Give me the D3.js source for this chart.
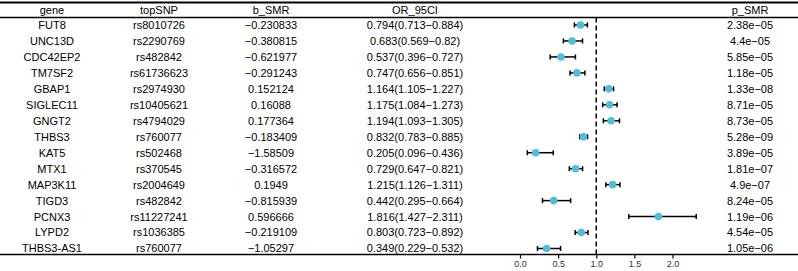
<!DOCTYPE html>
<html>
<head>
<meta charset="utf-8">
<script src="https://cdn.jsdelivr.net/npm/d3@7"></script>
<style>
  body { margin: 0; background: #fff; }
  text { font-family: "Liberation Sans", Arial, sans-serif; }
</style>
</head>
<body>
<div id="container"></div>
<script>
// forest plot of SMR results
const genes = ["FUT8", "UNC13D", "CDC42EP2", "TM7SF2", "GBAP1", "SIGLEC11", "GNGT2", "THBS3",
  "KAT5", "MTX1", "MAP3K11", "TIGD3", "PCNX3", "LYPD2", "THBS3-AS1"]
const snps = ["rs8010726", "rs2290769", "rs482842", "rs61736623", "rs2974930", "rs10405621", "rs4794029",
  "rs760077", "rs502468", "rs370545", "rs2004649", "rs482842", "rs11227241", "rs1036385", "rs760077"]
const bSMR = [-0.230833, -0.380815, -0.621977, -0.291243, 0.152124, 0.16088, 0.177364, -0.183409,
  -1.58509, -0.316572, 0.1949, -0.815939, 0.596666, -0.219109, -1.05297]
const orVal = [0.794, 0.683, 0.537, 0.747, 1.164, 1.175, 1.194, 0.832, 0.205, 0.729, 1.215, 0.442, 1.816, 0.803, 0.349]
const orLow = [0.713, 0.569, 0.396, 0.656, 1.105, 1.084, 1.093, 0.783, 0.096, 0.647, 1.126, 0.295, 1.427, 0.723, 0.229]
const orHigh = [0.884, 0.82, 0.727, 0.851, 1.227, 1.273, 1.305, 0.885, 0.436, 0.821, 1.311, 0.664, 2.311, 0.892, 0.532]
const pSMR = ["2.38e−05", "4.4e−05", "5.85e−05", "1.18e−05", "1.33e−08", "8.71e−05", "8.73e−05", "5.28e−09",
  "3.89e−05", "1.81e−07", "4.9e−07", "8.24e−05", "1.19e−06", "4.54e−05", "1.05e−06"]
const xTicks = [0, 0.5, 1, 1.5, 2]

const width = 798
const height = 271
const minus = s => String(s).replace("-", "−")

const data = genes.map((g, i) => ({
  gene: g, snp: snps[i], b: minus(bSMR[i]),
  ci: `${orVal[i]}(${orLow[i]}−${orHigh[i]})`,
  or: orVal[i], lo: orLow[i], hi: orHigh[i], p: pSMR[i]
}))

const svg = d3.select("#container")
  .append("svg")
  .attr("width", width)
  .attr("height", height)

const yScale = d3.scalePoint()
  .domain(genes)
  .range([25, 248.5])

const xScale = d3.scaleLinear()
  .domain([0, 2])
  .range([520, 672.5])

const cols = [
  { key: "gene", title: "gene", x: 52 },
  { key: "snp", title: "topSNP", x: 159 },
  { key: "b", title: "b_SMR", x: 271 },
  { key: "ci", title: "OR_95CI", x: 415 },
  { key: "p", title: "p_SMR", x: 750 }
]

// header
svg.append("g")
  .selectAll("text")
  .data(cols)
  .join("text")
  .attr("x", d => d.x)
  .attr("y", 10)
  .attr("dy", "0.36em")
  .attr("text-anchor", "middle")
  .style("font-size", "11px")
  .text(d => d.title)

// body text
cols.forEach(c => {
  svg.append("g")
    .selectAll("text")
    .data(data)
    .join("text")
    .attr("x", c.x)
    .attr("y", d => yScale(d.gene))
    .attr("dy", "0.36em")
    .attr("text-anchor", "middle")
    .style("font-size", "11px")
    .text(d => d[c.key])
})

// table lines
svg.append("line").attr("x1", 0).attr("x2", width).attr("y1", 2.5).attr("y2", 2.5)
  .attr("stroke", "#000").attr("stroke-width", 2)
svg.append("line").attr("x1", 0).attr("x2", width).attr("y1", 17.5).attr("y2", 17.5)
  .attr("stroke", "#000").attr("stroke-width", 1.5)

// reference line at OR = 1
svg.append("line")
  .attr("x1", xScale(1)).attr("x2", xScale(1))
  .attr("y1", 17.5).attr("y2", 254)
  .attr("stroke", "#000")
  .attr("stroke-width", 1.5)
  .attr("stroke-dasharray", "5,3")

// x axis
const axis = svg.append("g")
  .attr("transform", "translate(0, 254.5)")
  .call(d3.axisBottom(xScale).tickValues(xTicks).tickFormat(d3.format(".1f")).tickSize(4).tickPadding(2))
axis.select(".domain").remove()
axis.selectAll("line").attr("stroke", "#000").attr("stroke-width", 1.2)
axis.selectAll("text").style("font-size", "9px").attr("fill", "#333")
  .style("font-family", "Liberation Sans, Arial, sans-serif")
svg.append("line").attr("x1", 0).attr("x2", width).attr("y1", 254.5).attr("y2", 254.5)
  .attr("stroke", "#000").attr("stroke-width", 1.5)

// error bars
const bars = svg.append("g")
  .selectAll("g")
  .data(data)
  .join("g")
  .attr("transform", d => `translate(0, ${yScale(d.gene)})`)
bars.append("line")
  .attr("x1", d => xScale(d.lo)).attr("x2", d => xScale(d.hi))
  .attr("stroke", "#000").attr("stroke-width", 1.5)
bars.append("line")
  .attr("x1", d => xScale(d.lo)).attr("x2", d => xScale(d.lo))
  .attr("y1", -2.5).attr("y2", 2.5)
  .attr("stroke", "#000").attr("stroke-width", 1.5)
bars.append("line")
  .attr("x1", d => xScale(d.hi)).attr("x2", d => xScale(d.hi))
  .attr("y1", -2.5).attr("y2", 2.5)
  .attr("stroke", "#000").attr("stroke-width", 1.5)
bars.append("circle")
  .attr("cx", d => xScale(d.or))
  .attr("r", 3.8)
  .attr("fill", "#4FBEDB")
</script>
</body>
</html>
